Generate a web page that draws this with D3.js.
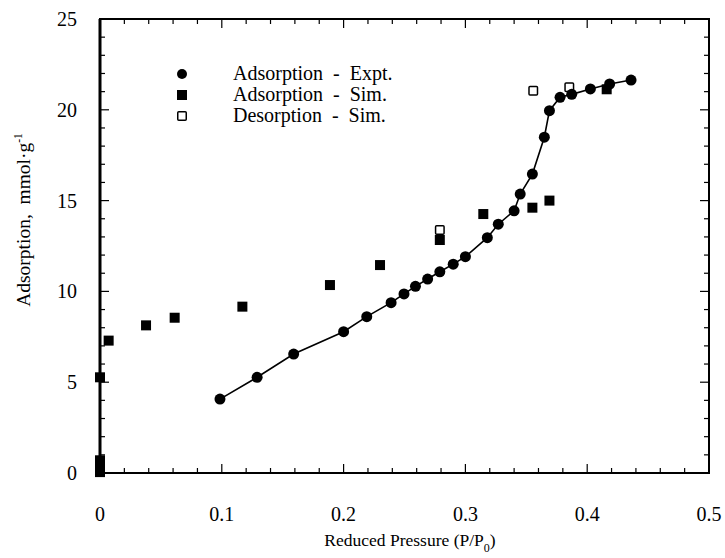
<!DOCTYPE html>
<html><head><meta charset="utf-8">
<script src="https://cdn.jsdelivr.net/npm/d3@7"></script>
<style>body{margin:0;background:#fff}svg{display:block}text{font-family:"Liberation Serif","Times New Roman",serif;fill:#000;white-space:pre}</style>
</head><body><svg id="c" width="725" height="558"></svg>
<script>
const expX = [0.0985,0.129,0.159,0.2,0.219,0.239,0.2496,0.259,0.269,0.279,0.290,0.300,0.318,0.327,0.340,0.345,0.355,0.3648,0.369,0.3777,0.3873,0.4026,0.4184,0.436];
const expY = [4.07,5.27,6.55,7.78,8.61,9.38,9.86,10.28,10.68,11.08,11.5,11.91,12.96,13.7,14.44,15.36,16.46,18.49,19.95,20.69,20.85,21.15,21.42,21.64];
const adsSimX = [0,0,0,0,0,0.0071,0.0378,0.0613,0.1169,0.1888,0.2299,0.279,0.3147,0.355,0.369,0.416];
const adsSimY = [0.05,0.25,0.45,0.7,5.27,7.29,8.13,8.55,9.16,10.35,11.45,12.83,14.26,14.61,15.0,21.13];
const desSimX = [0.279,0.3557,0.3853];
const desSimY = [13.38,21.05,21.24];
const xTicks = [0,0.1,0.2,0.3,0.4,0.5];
const yTicks = [0,5,10,15,20,25];
const legendLabels = ["Adsorption  -  Expt.","Adsorption  -  Sim.","Desorption  -  Sim."];

const svg = d3.select("#c");
const L=100,R=709,T=19,B=473;
const x = d3.scaleLinear().domain([0,0.5]).range([L,R]);
const y = d3.scaleLinear().domain([0,25]).range([B,T]);

const minorX = d3.range(0,0.5001,0.02);
const minorY = d3.range(0,25.001,1);
const g = svg.append("g");
g.append("rect").attr("x",L).attr("y",T).attr("width",R-L).attr("height",B-T).attr("fill","none").attr("stroke","#000").attr("stroke-width",2);
g.append("line").attr("x1",L).attr("x2",L).attr("y1",T).attr("y2",B).attr("stroke","#000").attr("stroke-width",3);
const isMajX = v => Math.abs(v*10-Math.round(v*10))<1e-6;
const isMajY = v => v%5===0;
minorX.forEach(v=>{
  const len = isMajX(v)?9:5;
  g.append("line").attr("x1",x(v)).attr("x2",x(v)).attr("y1",B).attr("y2",B-len).attr("stroke","#000").attr("stroke-width",1.2);
  g.append("line").attr("x1",x(v)).attr("x2",x(v)).attr("y1",T).attr("y2",T+len).attr("stroke","#000").attr("stroke-width",1.2);
});
minorY.forEach(v=>{
  const len = isMajY(v)?9:5;
  g.append("line").attr("x1",L).attr("x2",L+len).attr("y1",y(v)).attr("y2",y(v)).attr("stroke","#000").attr("stroke-width",1.2);
  g.append("line").attr("x1",R).attr("x2",R-len).attr("y1",y(v)).attr("y2",y(v)).attr("stroke","#000").attr("stroke-width",1.2);
});
xTicks.forEach(v=>{
  g.append("text").attr("x",x(v)).attr("y",521).attr("text-anchor","middle").attr("font-size",20).text(v===0?"0":String(v));
});
yTicks.forEach(v=>{
  g.append("text").attr("x",77).attr("y",y(v)+7).attr("text-anchor","end").attr("font-size",20).text(String(v));
});
const xt = g.append("text").attr("x",410).attr("y",546).attr("text-anchor","middle").attr("font-size",17.5);
xt.append("tspan").text("Reduced Pressure (P/P");
xt.append("tspan").attr("font-size",12).attr("dy",6).text("0");
xt.append("tspan").attr("dy",-6).text(")");
const yt = g.append("text").attr("transform","translate(30,220) rotate(-90)").attr("text-anchor","middle").attr("font-size",19.5);
yt.append("tspan").text("Adsorption,  mmol·g");
yt.append("tspan").attr("font-size",11.5).attr("dy",-8).text("-1");

const pts = expX.map((v,i)=>[v,expY[i]]);
g.append("path").datum(pts).attr("fill","none").attr("stroke","#000").attr("stroke-width",1.6)
 .attr("d",d3.line().x(d=>x(d[0])).y(d=>y(d[1])));
const S=10;
adsSimX.forEach((v,i)=>{
  g.append("rect").attr("x",x(v)-S/2).attr("y",y(adsSimY[i])-S/2).attr("width",S).attr("height",S).attr("fill","#000");
});
desSimX.forEach((v,i)=>{
  g.append("rect").attr("x",x(v)-S/2+0.75).attr("y",y(desSimY[i])-S/2+0.75).attr("width",S-1.5).attr("height",S-1.5).attr("fill","#fff").attr("stroke","#000").attr("stroke-width",1.5).attr("rx",1);
});
pts.forEach(d=>{
  g.append("circle").attr("cx",x(d[0])).attr("cy",y(d[1])).attr("r",5.5).attr("fill","#000");
});
const ly=[74,95,116], lx=182;
g.append("circle").attr("cx",lx).attr("cy",ly[0]).attr("r",5).attr("fill","#000");
g.append("rect").attr("x",lx-5).attr("y",ly[1]-5).attr("width",10).attr("height",10).attr("fill","#000");
g.append("rect").attr("x",lx-4.25).attr("y",ly[2]-4.25).attr("width",8.5).attr("height",8.5).attr("fill","#fff").attr("stroke","#000").attr("stroke-width",1.5).attr("rx",1);
legendLabels.forEach((t,i)=>{
  g.append("text").attr("x",233).attr("y",ly[i]+6).attr("font-size",20).text(t);
});
</script></body></html>
